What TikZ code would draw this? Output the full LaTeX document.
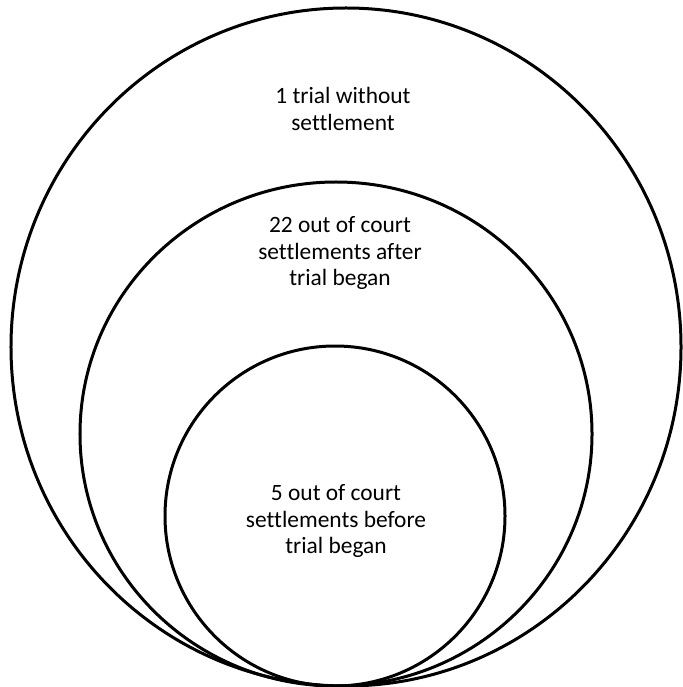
\documentclass[tikz,border=0pt]{standalone}
\usepackage{fontspec}
\setmainfont[Ligatures=CommonOff]{Carlito}
\usetikzlibrary{shapes.geometric}
\begin{document}
\begin{tikzpicture}[
        x=1bp, y=-1bp,
        ring/.style={draw, ellipse, line width=3bp, inner sep=0pt},
        caption/.style={align=center, font=\fontsize{23.5}{27}\selectfont}
    ]
        \useasboundingbox (0,0) rectangle (683,687);
        \node[ring, minimum width=670bp, minimum height=678bp] (outer) at (346,347) {};
        \node[ring, minimum width=512bp, minimum height=504bp] (middle) at (336,434) {};
        \node[ring, minimum width=340bp, minimum height=340bp] (inner) at (335,516) {};

        \node[caption] (outertext) at (343,109) {1 trial without\\settlement};
        \node[caption] (middletext) at (340,253) {22 out of court\\settlements after\\trial began};
        \node[caption] (innertext) at (336,521) {5 out of court\\settlements before\\trial began};
    \end{tikzpicture}
\end{document}
